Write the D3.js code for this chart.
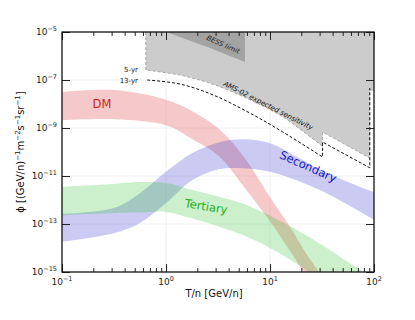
<!DOCTYPE html>
<html>
<head>
<meta charset="utf-8">
<script src="https://cdn.jsdelivr.net/npm/d3@7"></script>
<style>
  body { margin: 0; background: #fff; }
  text { font-family: "DejaVu Sans", sans-serif; }
</style>
</head>
<body>
<svg id="chart" width="415" height="320"></svg>
<script>
// DM band
const dmT  = [0.1, 0.32, 1, 1.8, 3.2, 5.6, 10, 16, 22, 32];
const dmHi = [3.2e-8, 3.8e-8, 1.5e-8, 4.9e-9, 9.5e-10, 6.3e-11, 1.3e-12, 6.3e-14, 6.3e-15, 6.3e-16];
const dmLo = [2.1e-9, 2.3e-9, 1.3e-9, 3.4e-10, 6.9e-11, 3.6e-12, 1.3e-13, 6.3e-15, 7.9e-16, 1.3e-16];

// Secondary band
const secT  = [0.1, 0.32, 0.56, 1, 1.8, 3.2, 5.6, 10, 18, 32, 56, 100];
const secHi = [2.6e-13, 4.7e-13, 1.9e-12, 1.5e-11, 9.1e-11, 2.5e-10, 3.4e-10, 2.3e-10, 6.3e-11, 1.6e-11, 5.6e-12, 2.1e-12];
const secLo = [1.8e-14, 4.2e-14, 1.1e-13, 7.5e-13, 6.8e-12, 1.9e-11, 2.1e-11, 1.5e-11, 6.6e-12, 2.3e-12, 6.3e-13, 1.5e-13];

// Tertiary band
const terT  = [0.1, 0.32, 0.56, 1, 1.8, 3.2, 5.6, 10, 18, 32, 56, 100];
const terHi = [3.5e-12, 4.7e-12, 5.6e-12, 5.1e-12, 2.6e-12, 1.4e-12, 6.8e-13, 2.2e-13, 5.8e-14, 1.3e-14, 2.6e-15, 5.6e-16];
const terLo = [2.3e-13, 2.9e-13, 3.0e-13, 3.2e-13, 1.7e-13, 7.9e-14, 3.3e-14, 1.0e-14, 2.2e-15, 4.0e-16, 6.3e-17, 1.0e-17];

// AMS-02 expected sensitivity, 5-yr (edge of grey region) and 13-yr
const ams5T = [0.64, 1.36, 2.8, 6.4, 13.3, 32];
const ams5F = [2.6e-7, 1.6e-7, 6.8e-8, 1.5e-8, 2.9e-9, 1.7e-10];
const ams5StepT = [32, 91, 91, 100];
const ams5StepF = [6.8e-10, 5.6e-11, 3.8e-8, 3.8e-8];
const ams13T = [0.66, 1.36, 2.83, 6.4, 13.3, 32];
const ams13F = [1.0e-7, 6.8e-8, 2.4e-8, 4.2e-9, 6.8e-10, 6.2e-11];
const ams13StepT = [32, 91, 91];
const ams13StepF = [2.6e-10, 2.2e-11, 4.6e-8];

// BESS limit
const bessT = [1.0, 2.5, 5.75];
const bessF = [1e-5, 2.4e-6, 5.6e-7];

const xMajor = [0.1, 1, 10, 100];
const xExp = ["−1", "0", "1", "2"];
const yMajor = [1e-5, 1e-7, 1e-9, 1e-11, 1e-13, 1e-15];
const yExp = ["−5", "−7", "−9", "−11", "−13", "−15"];

const mLeft = 62, mRight = 374, mTop = 32, mBottom = 272;
const svg = d3.select("#chart");

const x = d3.scaleLog().domain([0.1, 100]).range([mLeft, mRight]);
const y = d3.scaleLog().domain([1e-15, 1e-5]).range([mBottom, mTop]);

svg.append("clipPath").attr("id", "plotclip")
  .append("rect").attr("x", mLeft).attr("y", mTop)
  .attr("width", mRight - mLeft).attr("height", mBottom - mTop);

// grid
const grid = svg.append("g").attr("stroke", "#ececec").attr("stroke-width", 0.8);
[1, 10].forEach(v => grid.append("line")
  .attr("x1", x(v)).attr("x2", x(v)).attr("y1", mTop).attr("y2", mBottom));
yMajor.slice(1, -1).forEach(v => grid.append("line")
  .attr("x1", mLeft).attr("x2", mRight).attr("y1", y(v)).attr("y2", y(v)));

const plot = svg.append("g").attr("clip-path", "url(#plotclip)");

const pts = (ts, fs) => ts.map((t, i) => [x(t), y(fs[i])]);
const smooth = d3.line().curve(d3.curveCatmullRom.alpha(0.5));
const straight = d3.line();

// grey AMS region
const amsEdge = smooth(pts(ams5T, ams5F)) + straight(pts(ams5StepT, ams5StepF)).replace("M", "L");
plot.append("path")
  .attr("d", `M${x(0.64)},${y(1e-5)}L` + amsEdge.slice(1) + `L${x(100)},${y(1e-5)}Z`)
  .attr("fill", "#cccccc");

// BESS
plot.append("path")
  .attr("d", straight(pts(bessT, bessF)) + `L${x(5.75)},${y(1e-5)}Z`)
  .attr("fill", "#a3a3a3");

// bands
const area = d3.area()
  .x(d => x(d[0])).y0(d => y(d[1])).y1(d => y(d[2]))
  .curve(d3.curveCatmullRom.alpha(0.5));
const band = (ts, lo, hi, color) => plot.append("path")
  .attr("d", area(ts.map((t, i) => [t, lo[i], hi[i]])))
  .attr("fill", color).attr("fill-opacity", 0.25);
band(dmT, dmLo, dmHi, "#d62728");
band(secT, secLo, secHi, "#2a2ad0");
band(terT, terLo, terHi, "#2fc42f");

// 5-yr edge (grey dashed) and 13-yr (black dashed)
plot.append("path")
  .attr("d", `M${x(0.64)},${y(1e-5)}L` + amsEdge.slice(1))
  .attr("fill", "none").attr("stroke", "#a8a8a8")
  .attr("stroke-width", 1).attr("stroke-dasharray", "3,2");
plot.append("path")
  .attr("d", smooth(pts(ams13T, ams13F)) + straight(pts(ams13StepT, ams13StepF)).replace("M", "L"))
  .attr("fill", "none").attr("stroke", "#111")
  .attr("stroke-width", 1).attr("stroke-dasharray", "3,2");

// labels in plot
const label = (txt, cx, cy, ang, size, color, italic) => svg.append("text")
  .attr("transform", `translate(${cx},${cy}) rotate(${ang})`)
  .attr("text-anchor", "middle").attr("dominant-baseline", "middle")
  .attr("font-size", size).attr("fill", color)
  .attr("font-style", italic ? "italic" : "normal")
  .text(txt);
label("DM", 102, 104, 0, 11.5, "#cc1f1f");
label("Secondary", 308, 167, 24, 11.5, "#1515c8");
label("Tertiary", 206, 207, 9, 11.5, "#1fae1f");
label("BESS limit", 223, 45, 24, 7, "#222", true);
label("AMS-02 expected sensitivity", 268, 106, 27, 7, "#111", true);
svg.append("text").attr("x", 138).attr("y", 72).attr("text-anchor", "end")
  .attr("font-size", 7).attr("fill", "#111").text("5-yr");
svg.append("text").attr("x", 138).attr("y", 83).attr("text-anchor", "end")
  .attr("font-size", 7).attr("fill", "#111").text("13-yr");

// axes ticks (inward)
const xMinor = [];
[0.1, 1, 10].forEach(d => { for (let k = 2; k <= 9; k++) xMinor.push(d * k); });
const tickStyle = g => { g.select(".domain").remove(); g.selectAll("text").remove();
  g.selectAll("line").attr("stroke", "#222").attr("stroke-width", 1); };
svg.append("g").attr("transform", `translate(0,${mBottom})`)
  .call(d3.axisBottom(x).tickValues(xMajor).tickSizeInner(-8).tickSizeOuter(0)).call(tickStyle);
svg.append("g").attr("transform", `translate(0,${mBottom})`)
  .call(d3.axisBottom(x).tickValues(xMinor).tickSizeInner(-4).tickSizeOuter(0)).call(tickStyle);
svg.append("g").attr("transform", `translate(0,${mTop})`)
  .call(d3.axisTop(x).tickValues(xMajor).tickSizeInner(-8).tickSizeOuter(0)).call(tickStyle);
svg.append("g").attr("transform", `translate(0,${mTop})`)
  .call(d3.axisTop(x).tickValues(xMinor).tickSizeInner(-4).tickSizeOuter(0)).call(tickStyle);
svg.append("g").attr("transform", `translate(${mLeft},0)`)
  .call(d3.axisLeft(y).tickValues(yMajor).tickSizeInner(-8).tickSizeOuter(0)).call(tickStyle);
svg.append("g").attr("transform", `translate(${mRight},0)`)
  .call(d3.axisRight(y).tickValues(yMajor).tickSizeInner(-8).tickSizeOuter(0)).call(tickStyle);

// frame
svg.append("rect").attr("x", mLeft).attr("y", mTop)
  .attr("width", mRight - mLeft).attr("height", mBottom - mTop)
  .attr("fill", "none").attr("stroke", "#111").attr("stroke-width", 1.3);

// tick labels
const powLabel = (px, py, exp, anchor) => {
  const t = svg.append("text").attr("x", px).attr("y", py)
    .attr("text-anchor", anchor).attr("font-size", 9).attr("fill", "#222");
  t.append("tspan").text("10");
  t.append("tspan").attr("dy", -4).attr("font-size", 6.5).text(exp);
};
xMajor.forEach((v, i) => powLabel(x(v), 285, xExp[i], "middle"));
yMajor.forEach((v, i) => powLabel(57, y(v) + 3, yExp[i], "end"));

// axis titles
svg.append("text").attr("x", 214).attr("y", 297).attr("text-anchor", "middle")
  .attr("font-size", 10).attr("fill", "#111").text("T/n [GeV/n]");
const yl = svg.append("text")
  .attr("transform", "translate(24,152) rotate(-90)")
  .attr("text-anchor", "middle").attr("font-size", 10).attr("fill", "#111");
const parts = [["ϕ [(GeV/n)", 0], ["−1", 1], ["m", 0], ["−2", 1], ["s", 0], ["−1", 1], ["sr", 0], ["−1", 1], ["]", 0]];
parts.forEach(([s, sup], i) => {
  const prevSup = i > 0 && parts[i - 1][1];
  yl.append("tspan")
    .attr("dy", sup ? -4 : (prevSup ? 4 : 0))
    .attr("font-size", sup ? 7 : 10)
    .text(s);
});
</script>
</body>
</html>
